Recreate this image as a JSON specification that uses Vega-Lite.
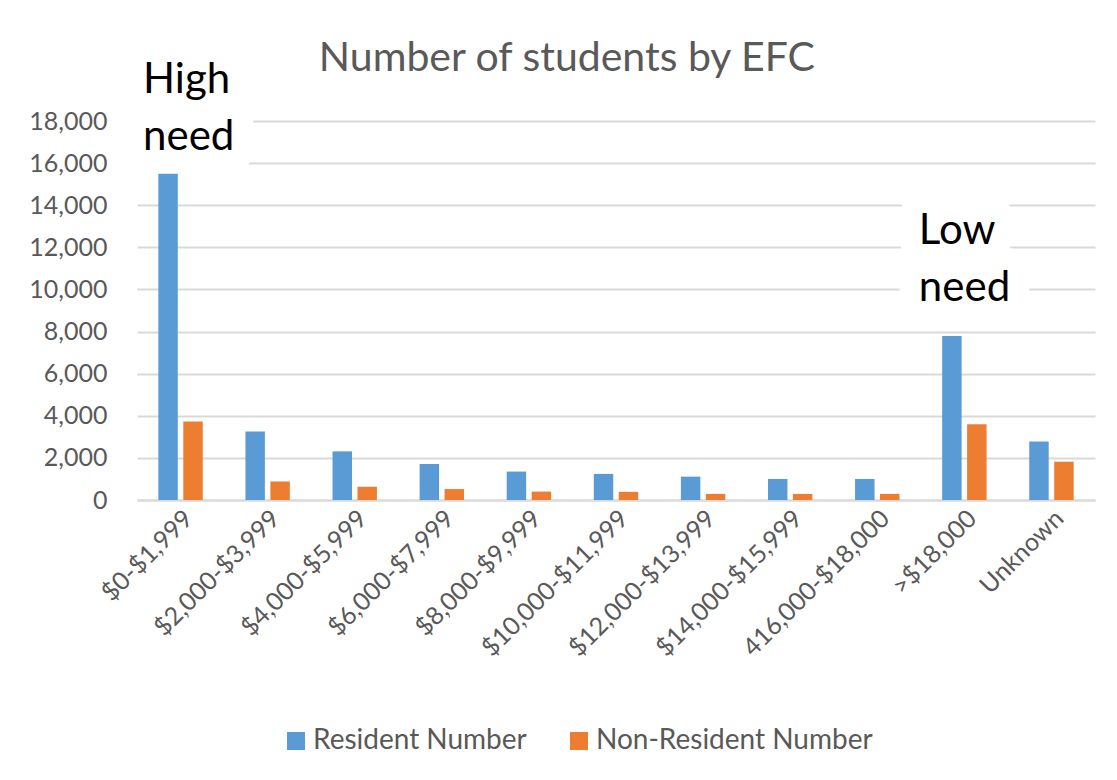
{
  "$schema": "https://vega.github.io/schema/vega-lite/v6.json",
  "autosize": {"type": "none"},
  "width": 958,
  "height": 379,
  "padding": {"left": 137, "top": 121, "right": 22, "bottom": 280},
  "background": "#ffffff",
  "config": {
    "font": "Lato",
    "view": {"stroke": null},
    "axis": {
      "labelFont": "Lato",
      "labelColor": "#595959",
      "labelFontSize": 25,
      "labelLimit": 0,
      "ticks": false,
      "title": null,
      "gridColor": "#d9d9d9",
      "gridWidth": 2,
      "domainColor": "#d9d9d9",
      "domainWidth": 2
    },
    "legend": {
      "labelFont": "Lato",
      "labelFontSize": 28,
      "labelColor": "#595959",
      "labelLimit": 0
    }
  },
  "title": {
    "text": "Number of students by EFC",
    "font": "Lato",
    "fontSize": 41,
    "fontWeight": "normal",
    "color": "#595959",
    "anchor": "middle",
    "frame": "bounds",
    "offset": -21,
    "dx": 5
  },
  "data": {
    "values": [
      {"range": "$0-$1,999", "series": "Resident Number", "students": 15500},
      {"range": "$0-$1,999", "series": "Non-Resident Number", "students": 3730},
      {"range": "$2,000-$3,999", "series": "Resident Number", "students": 3250},
      {"range": "$2,000-$3,999", "series": "Non-Resident Number", "students": 880},
      {"range": "$4,000-$5,999", "series": "Resident Number", "students": 2310},
      {"range": "$4,000-$5,999", "series": "Non-Resident Number", "students": 630},
      {"range": "$6,000-$7,999", "series": "Resident Number", "students": 1710},
      {"range": "$6,000-$7,999", "series": "Non-Resident Number", "students": 520},
      {"range": "$8,000-$9,999", "series": "Resident Number", "students": 1350},
      {"range": "$8,000-$9,999", "series": "Non-Resident Number", "students": 400},
      {"range": "$10,000-$11,999", "series": "Resident Number", "students": 1240},
      {"range": "$10,000-$11,999", "series": "Non-Resident Number", "students": 390},
      {"range": "$12,000-$13,999", "series": "Resident Number", "students": 1110},
      {"range": "$12,000-$13,999", "series": "Non-Resident Number", "students": 290},
      {"range": "$14,000-$15,999", "series": "Resident Number", "students": 1000},
      {"range": "$14,000-$15,999", "series": "Non-Resident Number", "students": 290},
      {"range": "416,000-$18,000", "series": "Resident Number", "students": 1000},
      {"range": "416,000-$18,000", "series": "Non-Resident Number", "students": 290},
      {"range": ">$18,000", "series": "Resident Number", "students": 7790},
      {"range": ">$18,000", "series": "Non-Resident Number", "students": 3600},
      {"range": "Unknown", "series": "Resident Number", "students": 2780},
      {"range": "Unknown", "series": "Non-Resident Number", "students": 1820}
    ]
  },
  "encoding": {
    "x": {
      "field": "range",
      "type": "nominal",
      "scale": {
        "domain": ["$0-$1,999", "$2,000-$3,999", "$4,000-$5,999", "$6,000-$7,999", "$8,000-$9,999", "$10,000-$11,999", "$12,000-$13,999", "$14,000-$15,999", "416,000-$18,000", ">$18,000", "Unknown"],
        "paddingInner": 0.49,
        "paddingOuter": 0.245
      },
      "axis": {
        "labelAngle": -45,
        "labelAlign": "right",
        "labelBaseline": "middle",
        "labelPadding": 14,
        "labelOffset": 8,
        "labelFontSize": 25,
        "grid": false
      }
    },
    "y": {
      "field": "students",
      "type": "quantitative",
      "scale": {"domain": [0, 18000], "nice": false},
      "axis": {
        "values": [0, 2000, 4000, 6000, 8000, 10000, 12000, 14000, 16000, 18000],
        "format": ",.0f",
        "domain": false,
        "labelPadding": 30,
        "grid": true
      }
    }
  },
  "layer": [
    {
      "transform": [{"filter": "datum.range === '$0-$1,999' && datum.series === 'Resident Number'"}],
      "mark": {
        "type": "text",
        "text": ["High", "need"],
        "font": "Lato",
        "fontSize": 42,
        "lineHeight": 57,
        "align": "left",
        "baseline": "bottom",
        "dx": -37.5,
        "dy": -72,
        "fill": "#ffffff",
        "stroke": "#ffffff",
        "strokeWidth": 44,
        "strokeJoin": "round"
      }
    },
    {
      "transform": [{"filter": "datum.range === '>$18,000' && datum.series === 'Resident Number'"}],
      "mark": {
        "type": "text",
        "text": ["Low", "need"],
        "font": "Lato",
        "fontSize": 42,
        "lineHeight": 57,
        "align": "left",
        "baseline": "bottom",
        "dx": -45.5,
        "dy": -83,
        "fill": "#ffffff",
        "stroke": "#ffffff",
        "strokeWidth": 44,
        "strokeJoin": "round"
      }
    },
    {
      "mark": {"type": "bar"},
      "encoding": {
        "xOffset": {
          "field": "series",
          "type": "nominal",
          "sort": ["Resident Number", "Non-Resident Number"],
          "scale": {"paddingInner": 0.22, "paddingOuter": 0}
        },
        "color": {
          "field": "series",
          "type": "nominal",
          "sort": ["Resident Number", "Non-Resident Number"],
          "scale": {
            "domain": ["Resident Number", "Non-Resident Number"],
            "range": ["#5b9bd5", "#ed7d31"]
          },
          "legend": {
            "title": null,
            "orient": "none",
            "direction": "horizontal",
            "legendX": 145,
            "legendY": 606,
            "padding": 0,
            "symbolType": "square",
            "symbolSize": 324,
            "symbolStrokeWidth": 0,
            "labelOffset": 3,
            "columnPadding": 38
          }
        }
      }
    },
    {
      "transform": [{"filter": "datum.range === '$0-$1,999' && datum.series === 'Resident Number'"}],
      "mark": {
        "type": "text",
        "text": ["High", "need"],
        "font": "Lato",
        "fontSize": 42,
        "lineHeight": 57,
        "align": "left",
        "baseline": "bottom",
        "dx": -37.5,
        "dy": -72,
        "color": "#000000"
      }
    },
    {
      "transform": [{"filter": "datum.range === '>$18,000' && datum.series === 'Resident Number'"}],
      "mark": {
        "type": "text",
        "text": ["Low", "need"],
        "font": "Lato",
        "fontSize": 42,
        "lineHeight": 57,
        "align": "left",
        "baseline": "bottom",
        "dx": -45.5,
        "dy": -83,
        "color": "#000000"
      }
    }
  ]
}
